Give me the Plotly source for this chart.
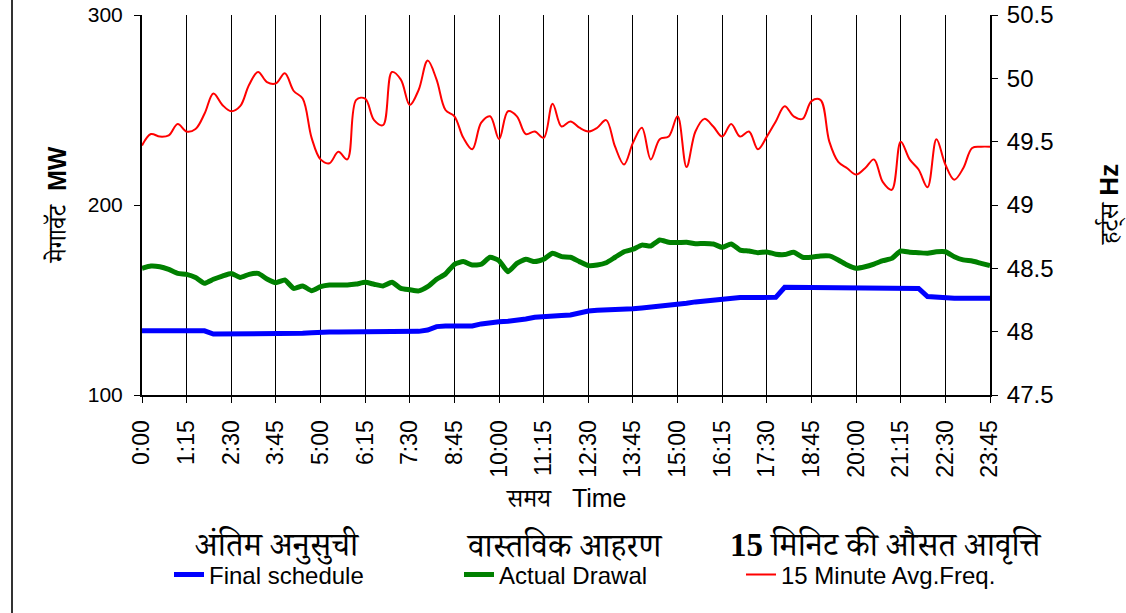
import plotly.graph_objects as go

# 15-minute time blocks
times = ['%d:%02d' % (h, m) for h in range(24) for m in (0, 15, 30, 45)]
tick_labels = times[::5]

final_schedule = [
  133.8, 133.8, 133.8, 133.8, 133.8, 133.8, 133.8, 133.8, 132.1, 132.1,
  132.1, 132.1, 132.1, 132.1, 132.1, 132.1, 132.1, 132.1, 132.5, 132.8,
  133.2, 133.2, 133.2, 133.2, 133.2, 133.5, 133.5, 133.5, 133.5, 133.5,
  133.5, 133.5, 134.2, 136.0, 136.3, 136.3, 136.3, 136.3, 137.4, 138.2,
  138.6, 138.8, 139.1, 140.0, 140.9, 141.4, 141.6, 141.8, 142.1, 143.3,
  144.2, 144.6, 144.7, 144.9, 145.1, 145.4, 145.8, 146.2, 146.8, 147.4,
  147.9, 148.3, 149.0, 149.5, 150.4, 150.9, 151.3, 151.3, 151.3, 151.3,
  151.8, 151.4, 156.7, 156.7, 156.7, 156.7, 156.7, 156.7, 156.5, 156.5,
  156.5, 156.5, 156.5, 156.5, 156.5, 156.5, 156.5, 156.1, 151.8, 151.3,
  150.9, 150.9, 150.9, 150.9, 150.9, 150.9]

actual_drawal = [
  166.7, 167.9, 167.5, 166.1, 164.0, 163.5, 161.9, 158.8, 160.9, 162.6,
  164.0, 161.9, 163.5, 164.0, 161.1, 159.1, 160.5, 156.1, 157.4, 154.9,
  157.0, 157.9, 157.9, 157.9, 158.4, 159.3, 158.3, 157.4, 159.3, 156.1,
  155.4, 154.8, 157.0, 160.9, 163.7, 168.8, 170.2, 168.4, 168.8, 172.5,
  170.7, 164.9, 169.3, 171.4, 170.2, 171.4, 174.6, 172.8, 172.5, 170.2,
  168.1, 168.4, 169.6, 172.5, 175.4, 176.7, 178.9, 178.4, 181.6, 180.4,
  180.2, 180.4, 179.6, 179.8, 179.5, 177.7, 179.5, 176.3, 175.8, 174.9,
  175.3, 174.1, 173.9, 175.1, 172.5, 172.5, 173.2, 173.2, 171.1, 168.4,
  166.7, 167.5, 168.9, 170.7, 171.9, 175.8, 175.1, 174.9, 174.6, 175.4,
  175.4, 172.8, 171.1, 170.5, 169.3, 168.1]

avg_freq = [
  49.47, 49.56, 49.54, 49.55, 49.64, 49.58, 49.60, 49.72, 49.88, 49.79,
  49.74, 49.78, 49.95, 50.05, 49.97, 49.96, 50.04, 49.90, 49.84, 49.53,
  49.36, 49.33, 49.42, 49.36, 49.83, 49.84, 49.67, 49.63, 50.05, 49.99,
  49.79, 49.91, 50.14, 49.99, 49.75, 49.70, 49.53, 49.44, 49.65, 49.70,
  49.52, 49.74, 49.70, 49.56, 49.58, 49.53, 49.80, 49.62, 49.66, 49.61,
  49.58, 49.61, 49.67, 49.46, 49.32, 49.49, 49.61, 49.36, 49.52, 49.54,
  49.70, 49.30, 49.58, 49.68, 49.62, 49.54, 49.64, 49.54, 49.58, 49.44,
  49.54, 49.66, 49.78, 49.70, 49.68, 49.82, 49.83, 49.50, 49.34, 49.29,
  49.24, 49.29, 49.36, 49.18, 49.12, 49.50, 49.36, 49.28, 49.14, 49.52,
  49.32, 49.20, 49.29, 49.45, 49.46, 49.46]

deva = 'Noto Serif Devanagari, Noto Sans Devanagari, Lohit Devanagari, FreeSerif'
sans = 'Liberation Sans, Arial, ' + deva + ', sans-serif'
serif = 'Liberation Serif, ' + deva + ', serif'

fig = go.Figure()
fig.add_trace(go.Scatter(x=times, y=final_schedule, name='Final schedule', mode='lines',
                         legendwidth=245, line=dict(color='#0000ff', width=5)))
fig.add_trace(go.Scatter(x=times, y=actual_drawal, name='Actual Drawal', mode='lines',
                         legendwidth=237, line=dict(color='#008000', width=5, shape='spline', smoothing=0.5)))
fig.add_trace(go.Scatter(x=times, y=avg_freq, name='15 Minute Avg.Freq.', mode='lines', yaxis='y2',
                         legendwidth=225, line=dict(color='#ff0000', width=2, shape='spline', smoothing=1)))

fig.update_layout(
  width=1126, height=613,
  margin=dict(l=142, r=136, t=15, b=218, autoexpand=False),
  paper_bgcolor='white', plot_bgcolor='white',
  font=dict(family=sans, color='black'),
  xaxis=dict(type='category', range=[0, 95], tickvals=tick_labels, ticktext=tick_labels,
             tickangle=-90, tickfont=dict(size=23), showgrid=True, gridcolor='black', gridwidth=1,
             showline=True, linecolor='black', linewidth=2, ticks='outside', ticklen=6,
             tickcolor='black', zeroline=False, ticklabelstandoff=8, automargin=False),
  yaxis=dict(range=[100, 300], tickvals=[100, 200, 300], showgrid=False, showline=True,
             linecolor='black', linewidth=2, ticks='outside', ticklen=6, tickcolor='black',
             tickfont=dict(size=21), zeroline=False, automargin=False,
             ticklabelstandoff=7, ticklabeloverflow='allow'),
  yaxis2=dict(range=[47.5, 50.5], overlaying='y', side='right',
              tickvals=[47.5, 48, 48.5, 49, 49.5, 50, 50.5],
              ticktext=['47.5', '48', '48.5', '49', '49.5', '50', '50.5'],
              showgrid=False, showline=True, linecolor='black', linewidth=2, ticks='outside',
              ticklen=6, tickcolor='black', tickfont=dict(size=24), zeroline=False, automargin=False,
              ticklabelstandoff=4, ticklabeloverflow='allow'),
  showlegend=True,
  legend=dict(orientation='h', xref='container', yref='container', x=169 / 1126.0, xanchor='left',
              y=1 - 575 / 613.0, yanchor='middle',
              font=dict(size=24, family=sans), bgcolor='rgba(0,0,0,0)'),
)

# axis titles and legend captions
fig.add_annotation(text='मेगावॅट  <b>MW</b>', x=-0.1, y=0.5, xref='paper', yref='paper',
                   xanchor='center', yanchor='middle', textangle=-90, showarrow=False,
                   font=dict(size=25, family=sans))
fig.add_annotation(text='हर्ट्स <b>Hz</b>', x=1.1415, y=0.5, xref='paper', yref='paper',
                   xanchor='center', yanchor='middle', textangle=-90, showarrow=False,
                   font=dict(size=26, family=sans))
fig.add_annotation(text='समय   Time', x=0.5, y=-0.271, xref='paper', yref='paper',
                   xanchor='center', yanchor='middle', showarrow=False, font=dict(size=25, family=sans))
for txt, xc in [('अंतिम अनुसुची', 277), ('वास्तविक आहरण', 564), ('<b>15</b> मिनिट की औसत आवृत्ति', 886)]:
  fig.add_annotation(text=txt, x=(xc - 142) / 848.0, y=(395 - 545) / 380.0, xref='paper', yref='paper',
                     xanchor='center', yanchor='middle', showarrow=False, font=dict(size=33, family=serif))

# picture frame line on the left
fig.add_shape(type='line', xref='paper', yref='paper', x0=-0.1533, x1=-0.1533, y0=-0.6, y1=1.05,
              line=dict(color='#333333', width=2))

# drop the default page margin so the figure sits at the window's top-left corner
fig.write_html('out.html', config={'displayModeBar': False},
               post_script="document.body.style.margin = '0';")
